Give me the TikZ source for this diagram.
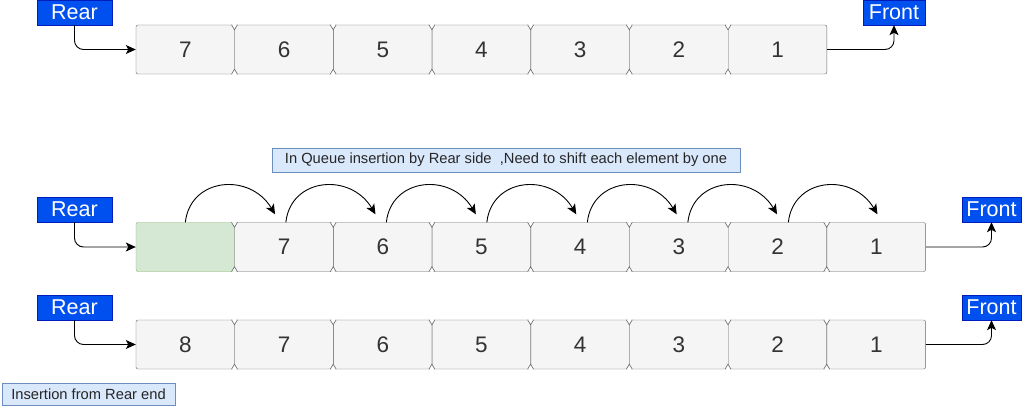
\documentclass[tikz,border=0pt]{standalone}
\usepackage{fontspec}
\setmainfont{Liberation Sans}
\usetikzlibrary{arrows.meta,calc}
\definecolor{cellfill}{HTML}{F5F5F5}
\definecolor{cellline}{HTML}{666666}
\definecolor{newfill}{HTML}{D5E8D4}
\definecolor{newline}{HTML}{82B366}
\definecolor{tagfill}{HTML}{0050EF}
\definecolor{tagline}{HTML}{001DBC}
\definecolor{notefill}{HTML}{DAE8FC}
\definecolor{noteline}{HTML}{6C8EBF}
\tikzset{
  cell/.style={draw=cellline,fill=cellfill,rounded corners=2pt,minimum width=98.7pt,minimum height=49pt,inner sep=0pt,font=\fontsize{22.5}{24}\selectfont,text=black!80},
  newcell/.style={cell,draw=newline,fill=newfill},
  tag/.style={draw=tagline,fill=tagfill,text=white,minimum height=25pt,inner sep=0pt,font=\fontsize{21.5}{24}\selectfont},
  note/.style={draw=noteline,fill=notefill,inner sep=0pt,font=\fontsize{14.7}{16}\selectfont,text=black!85},
  conn/.style={draw=black,line width=0.9pt,rounded corners=9pt,-{Stealth[length=10pt,width=9pt,inset=2.5pt]}},
  joint/.style={draw=cellline,fill=white,line width=0.6pt}
}
\newcommand{\joints}[1]{% small marks where two cells meet
  \draw[joint] ($(#1.north west)+(-3,0)$) -- ++(3,-5) -- ++(3,5);
  \draw[joint] ($(#1.south west)+(-3,0)$) -- ++(3,5) -- ++(3,-5);}
\begin{document}
\begin{tikzpicture}[x=1pt,y=1pt]
\useasboundingbox (0,0) rectangle (1024,408);
% first queue
\foreach \v [count=\i] in {7,6,5,4,3,2,1}
  \node[cell] (a\i) at (136+98.7*\i-49.35,358.5) {\v};
\foreach \i in {2,...,7} {\joints{a\i}}
\node[tag,minimum width=75pt] (rearA) at (74.5,395.5) {Rear};
\node[tag,minimum width=62pt] (frontA) at (894,395.5) {Front};
\draw[conn] (rearA.south) |- (a1.west);
\draw[conn] (a7.east) -| (frontA.south);
% second queue, shifting
\node[note,minimum width=468pt,minimum height=24pt] (noteA) at (506,248) {In Queue insertion by Rear side\ \ ,Need to shift each element by one};
\node[newcell] (b0) at (136+49.35,161) {};
\foreach \v [count=\i] in {7,6,5,4,3,2,1}
  \node[cell] (b\i) at (136+98.7*\i+49.35,161) {\v};
\foreach \i in {1,...,7} {\joints{b\i}}
\node[tag,minimum width=75pt] (rearB) at (74.5,198.5) {Rear};
\node[tag,minimum width=59pt] (frontB) at (991.5,198.5) {Front};
\draw[conn] (rearB.south) |- (b0.west);
\draw[conn] (b7.east) -| (frontB.south);
\foreach \i [evaluate=\i as \j using int(\i+1)] in {0,...,6}
  \draw[conn] ($(b\i.north)+(1.8*\i,0)$) .. controls +(5,45) and +(-25,42) .. ($(b\j.north)+(-9+1.7*\i,8)$);
% third queue
\foreach \v [count=\i] in {8,7,6,5,4,3,2,1}
  \node[cell] (c\i) at (136+98.7*\i-49.35,63.5) {\v};
\foreach \i in {2,...,8} {\joints{c\i}}
\node[tag,minimum width=75pt] (rearC) at (74.5,100.5) {Rear};
\node[tag,minimum width=59pt] (frontC) at (991.5,100.5) {Front};
\draw[conn] (rearC.south) |- (c1.west);
\draw[conn] (c8.east) -| (frontC.south);
\node[note,minimum width=173pt,minimum height=22pt] (noteB) at (88.5,14) {Insertion from Rear end};
\end{tikzpicture}
\end{document}
